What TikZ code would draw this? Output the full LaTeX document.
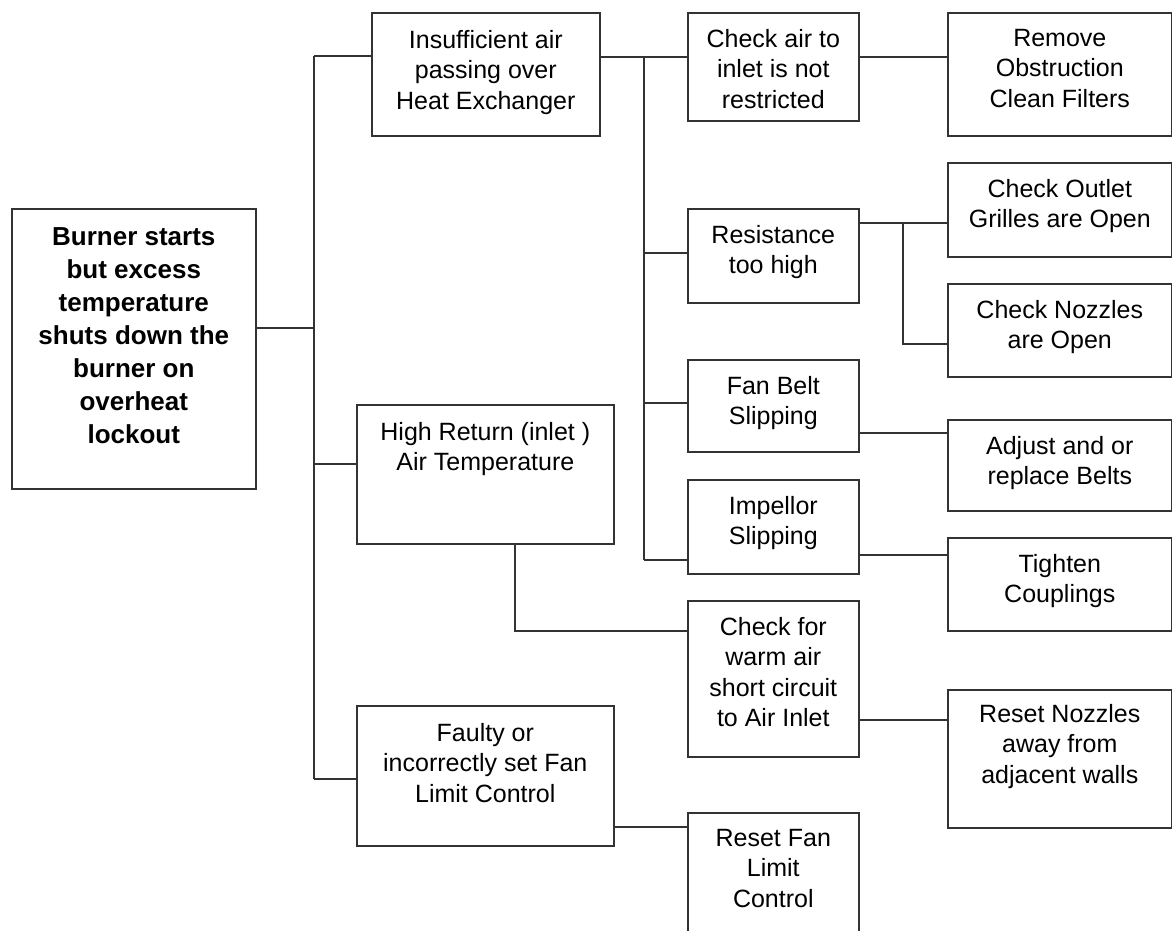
\documentclass[tikz,border=0pt]{standalone}
\usepackage{fontspec}
\setmainfont{Liberation Sans}
\usetikzlibrary{positioning}
\begin{document}
\begin{tikzpicture}[x=1pt,y=-1pt,
  box/.style={draw=black!80,line width=1.6pt,anchor=north west,inner sep=0pt},
  txt/.style={align=center,inner sep=0pt,font=\fontsize{25}{30.5}\selectfont},
  wire/.style={draw=black!80,line width=1.3pt}]
\path[use as bounding box,clip] (0,0) rectangle (1172,931);
\fill[white] (0,0) rectangle (1172,931);

% cause
\node[box,minimum width=244pt,minimum height=280pt] (root) at (11,208) {};
\node[txt,font=\fontsize{26}{33}\selectfont\bfseries,below=19pt of root.north] (root-t) {Burner starts\\but excess\\temperature\\shuts down the\\burner on\\overheat\\lockout};

% first column
\node[box,minimum width=228pt,minimum height=123pt] (insuff) at (371,12) {};
\node[txt,below=18pt of insuff.north] (insuff-t) {Insufficient air\\passing over\\Heat Exchanger};
\node[box,minimum width=257pt,minimum height=139pt] (highret) at (356,404) {};
\node[txt,below=18pt of highret.north] (highret-t) {High Return (inlet )\\Air Temperature};
\node[box,minimum width=257pt,minimum height=140pt] (faulty) at (356,705) {};
\node[txt,below=18pt of faulty.north] (faulty-t) {Faulty or\\incorrectly set Fan\\Limit Control};

% second column
\node[box,minimum width=171pt,minimum height=108pt] (checkair) at (687,12) {};
\node[txt,below=17pt of checkair.north] (checkair-t) {Check air to\\inlet is not\\restricted};
\node[box,minimum width=171pt,minimum height=94pt] (resist) at (687,208) {};
\node[txt,below=17pt of resist.north] (resist-t) {Resistance\\too high};
\node[box,minimum width=171pt,minimum height=92pt] (fanbelt) at (687,359) {};
\node[txt,below=17pt of fanbelt.north] (fanbelt-t) {Fan Belt\\Slipping};
\node[box,minimum width=171pt,minimum height=94pt] (impellor) at (687,479) {};
\node[txt,below=17pt of impellor.north] (impellor-t) {Impellor\\Slipping};
\node[box,minimum width=171pt,minimum height=156pt] (warmair) at (687,600) {};
\node[txt,below=17pt of warmair.north] (warmair-t) {Check for\\warm air\\short circuit\\to Air Inlet};
\node[box,minimum width=171pt,minimum height=130pt] (resetfan) at (687,812) {};
\node[txt,below=17pt of resetfan.north] (resetfan-t) {Reset Fan\\Limit\\Control};

% remedies
\node[box,minimum width=224pt,minimum height=123pt] (remove) at (947,12) {};
\node[txt,below=17pt of remove.north] (remove-t) {Remove\\Obstruction\\Clean Filters};
\node[box,minimum width=224pt,minimum height=94pt] (outlet) at (947,162) {};
\node[txt,below=17pt of outlet.north] (outlet-t) {Check Outlet\\Grilles are Open};
\node[box,minimum width=224pt,minimum height=93pt] (nozzles) at (947,283) {};
\node[txt,below=17pt of nozzles.north] (nozzles-t) {Check Nozzles\\are Open};
\node[box,minimum width=224pt,minimum height=91pt] (belts) at (947,419) {};
\node[txt,below=17pt of belts.north] (belts-t) {Adjust and or\\replace Belts};
\node[box,minimum width=224pt,minimum height=93pt] (couplings) at (947,537) {};
\node[txt,below=17pt of couplings.north] (couplings-t) {Tighten\\Couplings};
\node[box,minimum width=224pt,minimum height=138pt] (resetnoz) at (947,689) {};
\node[txt,below=15pt of resetnoz.north] (resetnoz-t) {Reset Nozzles\\away from\\adjacent walls};

% joints
\coordinate (bus) at (314,328);
\coordinate (bus-a) at (314,56);
\coordinate (bus-b) at (314,464);
\coordinate (bus-c) at (314,779);
\coordinate (mid-a) at (644,57);
\coordinate (mid-b) at (644,253);
\coordinate (mid-c) at (644,403);
\coordinate (mid-d) at (644,560);
\coordinate (drop) at (515,631);
\coordinate (out-a) at (903,223);
\coordinate (out-b) at (903,344);
\coordinate (belt-y) at (0,433);
\coordinate (coup-y) at (0,555);
\coordinate (noz-y) at (0,720);
\coordinate (fan-y) at (0,827);

\draw[wire] (root.east |- bus) -- (bus);
\draw[wire] (bus-a) -- (bus-c);
\draw[wire] (bus-a) -- (insuff.west |- bus-a);
\draw[wire] (bus-b) -- (highret.west |- bus-b);
\draw[wire] (bus-c) -- (faulty.west |- bus-c);

\draw[wire] (insuff.east |- mid-a) -- (checkair.west |- mid-a);
\draw[wire] (mid-a) -- (mid-d);
\draw[wire] (mid-b) -- (resist.west |- mid-b);
\draw[wire] (mid-c) -- (fanbelt.west |- mid-c);
\draw[wire] (mid-d) -- (impellor.west |- mid-d);
\draw[wire] (drop |- highret.south) -- (drop) -- (warmair.west |- drop);
\draw[wire] (faulty.east |- fan-y) -- (resetfan.west |- fan-y);

\draw[wire] (checkair.east |- mid-a) -- (remove.west |- mid-a);
\draw[wire] (resist.east |- out-a) -- (outlet.west |- out-a);
\draw[wire] (out-a) -- (out-b) -- (nozzles.west |- out-b);
\draw[wire] (fanbelt.east |- belt-y) -- (belts.west |- belt-y);
\draw[wire] (impellor.east |- coup-y) -- (couplings.west |- coup-y);
\draw[wire] (warmair.east |- noz-y) -- (resetnoz.west |- noz-y);
\end{tikzpicture}
\end{document}
